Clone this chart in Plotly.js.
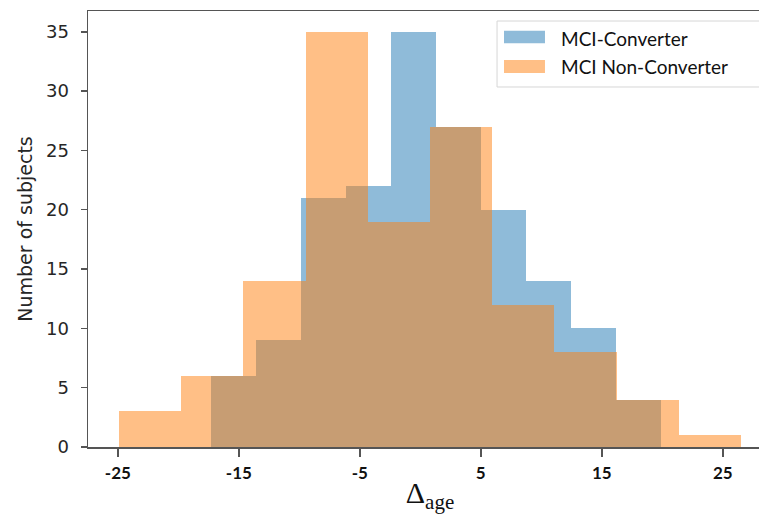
<!DOCTYPE html>
<html>
<head>
<meta charset="utf-8">
<script src="https://cdn.plot.ly/plotly-3.0.1.min.js"></script>
<style>
  html, body { margin: 0; padding: 0; overflow: hidden; background: #fff; }
  #chart { width: 780px; height: 514px; }
</style>
</head>
<body>
<div id="chart"></div>
<script>
// Histogram bin edges and counts
const seriesNames = ["MCI-Converter", "MCI Non-Converter"];
const converterEdges = [-17.3, -13.58, -9.86, -6.14, -2.42, 1.3, 5.02, 8.74, 12.46, 16.18, 19.9];
const converterCounts = [6, 9, 21, 22, 35, 27, 20, 14, 10, 4];
const nonConverterEdges = [-24.9, -19.76, -14.62, -9.48, -4.34, 0.8, 5.94, 11.08, 16.22, 21.36, 26.5];
const nonConverterCounts = [3, 6, 14, 35, 19, 27, 12, 8, 4, 1];
const xTickValues = [-25, -15, -5, 5, 15, 25];
const xTickLabels = ["-25", "-15", "-5", "5", "15", "25"];
const yTickValues = [0, 5, 10, 15, 20, 25, 30, 35];

const blueFill = "rgba(31,119,180,0.5)";
const orangeFill = "rgba(255,127,14,0.5)";

function centers(edges) { return edges.slice(0, -1).map((e, i) => (e + edges[i + 1]) / 2); }
function widths(edges) { return edges.slice(0, -1).map((e, i) => edges[i + 1] - e); }

const traces = [
  {
    type: "bar", name: seriesNames[0],
    x: centers(converterEdges), y: converterCounts, width: widths(converterEdges),
    marker: { color: blueFill, line: { width: 0 } },
    showlegend: false, hoverinfo: "skip"
  },
  {
    type: "bar", name: seriesNames[1],
    x: centers(nonConverterEdges), y: nonConverterCounts, width: widths(nonConverterEdges),
    marker: { color: orangeFill, line: { width: 0 } },
    showlegend: false, hoverinfo: "skip"
  }
];

const allEdges = converterEdges.concat(nonConverterEdges);
const xmin = Math.min(...allEdges), xmax = Math.max(...allEdges);
const xpad = (xmax - xmin) * 0.05;
const ymax = Math.max(...converterCounts, ...nonConverterCounts) * 1.05;

const legendFont = { family: "Lato, 'Open Sans', sans-serif", size: 19, color: "#111" };

const layout = {
  width: 780, height: 514,
  margin: { l: 88, r: 8, t: 11, b: 67, pad: 0 },
  paper_bgcolor: "#ffffff", plot_bgcolor: "#ffffff",
  barmode: "overlay", bargap: 0,
  showlegend: false,
  xaxis: {
    range: [xmin - xpad, xmax + xpad],
    tickmode: "array", tickvals: xTickValues, ticktext: xTickLabels,
    ticks: "outside", ticklen: 8, tickwidth: 1.5, tickcolor: "#555",
    ticklabelstandoff: 2,
    tickfont: { family: "Lato, sans-serif", size: 17, weight: "bold", color: "#111" },
    showgrid: false, zeroline: false,
    showline: true, linecolor: "#555", linewidth: 1.5, mirror: true,
    title: { text: "Δ<sub>age</sub>", font: { family: "'Liberation Serif', serif", size: 30, color: "#111" }, standoff: 12 }
  },
  yaxis: {
    range: [0, ymax],
    tickmode: "array", tickvals: yTickValues,
    ticks: "outside", ticklen: 6, tickwidth: 1.5, tickcolor: "#555",
    ticklabelstandoff: 8,
    tickfont: { family: "'DejaVu Sans', sans-serif", size: 18, color: "#262626" },
    showgrid: false, zeroline: false,
    showline: true, linecolor: "#555", linewidth: 1.5, mirror: false,
    title: { text: "Number of subjects", font: { family: "'DejaVu Sans', sans-serif", size: 19, color: "#262626" }, standoff: 8 }
  },
  shapes: [
    { type: "rect", xref: "paper", yref: "paper", x0: 0.598, x1: 0.9854, y0: 0.8257, y1: 0.977,
      fillcolor: "rgba(255,255,255,0.8)", line: { color: "#d6d6d6", width: 1 } },
    { type: "rect", xref: "paper", yref: "paper", x0: 0.6082, x1: 0.6681, y0: 0.9259, y1: 0.9548,
      fillcolor: blueFill, line: { width: 0 } },
    { type: "rect", xref: "paper", yref: "paper", x0: 0.6082, x1: 0.6681, y0: 0.8578, y1: 0.8876,
      fillcolor: orangeFill, line: { width: 0 } }
  ],
  annotations: [
    { xref: "paper", yref: "paper", x: 0.6886, y: 0.938, xanchor: "left", yanchor: "middle",
      text: seriesNames[0], showarrow: false, font: legendFont },
    { xref: "paper", yref: "paper", x: 0.6886, y: 0.872, xanchor: "left", yanchor: "middle",
      text: seriesNames[1], showarrow: false, font: legendFont }
  ]
};

Plotly.newPlot("chart", traces, layout, { displayModeBar: false, staticPlot: true });
</script>
</body>
</html>
